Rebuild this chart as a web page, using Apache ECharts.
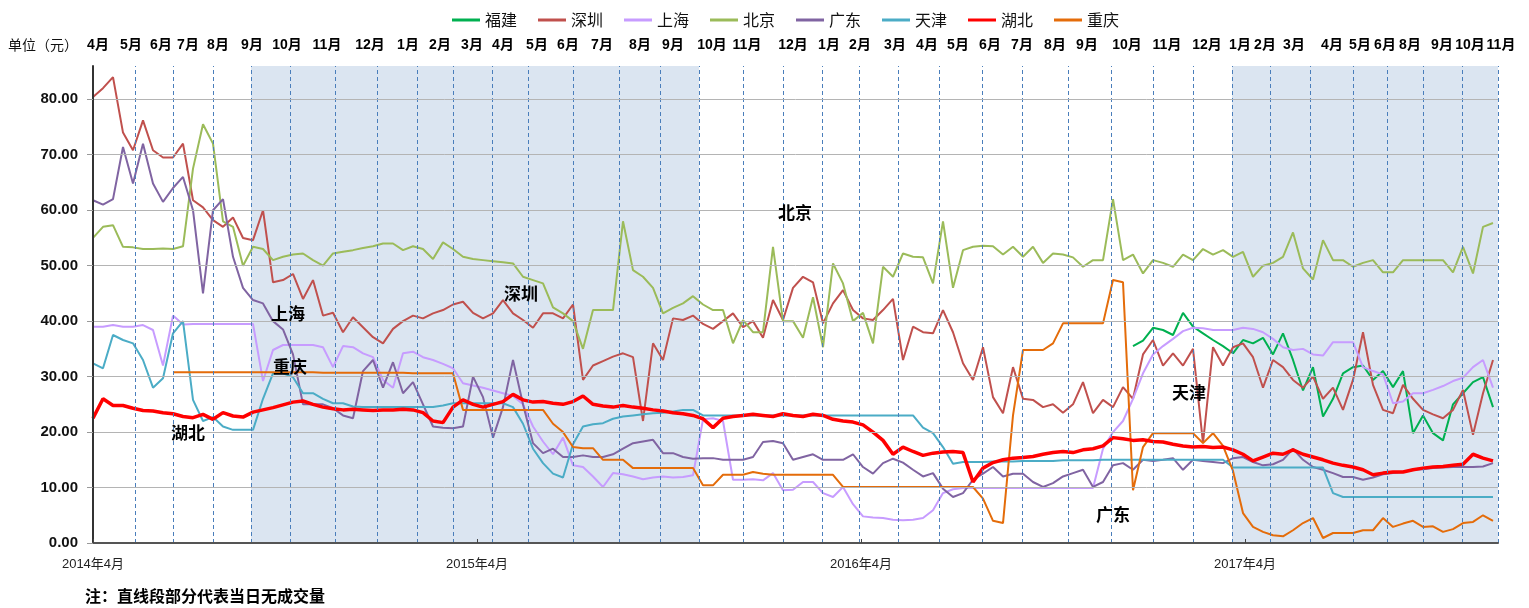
<!DOCTYPE html>
<html><head><meta charset="utf-8">
<script src="https://cdn.jsdelivr.net/npm/echarts@6/dist/echarts.min.js"></script>
<style>html,body{margin:0;padding:0;background:#fff}#c{width:1529px;height:608px}</style>
</head><body><div id="c"></div>
<script>
// x axis: trading-day-like units, one sample every 10 units, 0 = 2014年4月
const xStep = 10;
const names = ['福建','深圳','上海','北京','广东','天津','湖北','重庆'];
const colors = ['#00b050','#c0504d','#c79cff','#9bbb59','#8064a2','#4bacc6','#ff0000','#e46c0a'];

const fujian = [null,null,null,null,null,null,null,null,null,null,
 null,null,null,null,null,null,null,null,null,null,
 null,null,null,null,null,null,null,null,null,null,
 null,null,null,null,null,null,null,null,null,null,
 null,null,null,null,null,null,null,null,null,null,
 null,null,null,null,null,null,null,null,null,null,
 null,null,null,null,null,null,null,null,null,null,
 null,null,null,null,null,null,null,null,null,null,
 null,null,null,null,null,null,null,null,null,null,
 null,null,null,null,null,null,null,null,null,null,
 null,null,null,null,35.5,36.5,38.8,38.4,37.5,41.5,
 39,37.8,36.6,35.5,34.2,36.6,36,37,34,37.8,
 33,27.5,31.7,22.8,26,30.6,31.7,32,29.4,31,
 28.1,31,19.8,23,19.8,18.5,25,27,29,29.9,
 24.5];
const shenzhen = [80.4,82,84,74,70.8,76.2,70.8,69.5,69.5,72,
 61.8,60.5,58.2,57,58.7,55,54.6,60,47,47.4,
 48.5,44,47.4,41,41.5,38,40.7,38.9,37.1,36,
 38.6,40,41,40.5,41.4,42,43,43.5,41.5,40.5,
 41.4,43.8,41.4,40.2,38.8,41.4,41.4,40.5,43,29.4,
 32,32.8,33.6,34.2,33.5,22,36,33,40.5,40.2,
 41,39.5,38.6,40,41.4,38.9,40,37,43.8,40.2,
 46,48,47,39.6,43.2,45.6,42,40.5,40.2,42,
 44,33,39,38,37.8,42,38,32.4,29.4,35.3,
 26.3,23.4,31.7,26,25.8,24.5,25,23.5,25,29,
 23.4,25.8,24.5,28.1,26,34,36.6,32,34.2,32,
 35,18,35.3,32,35.3,36,33.5,28,33,31.7,
 29.4,28,30,26,28,24,29.4,38,28.5,24,
 23.4,28.5,26,24,23.2,22.5,24,27.6,19.5,27,
 33];
const shanghai = [39,39,39.3,39,39,39.3,38.4,32,41,39.4,
 39.5,39.5,39.5,39.5,39.5,39.5,39.5,29.2,34.8,35.7,
 35.7,35.7,35.7,35.3,31.7,35.5,35.3,34.2,33.5,29.4,
 28,34.2,34.5,33.5,33,32.3,31.5,28.8,28.4,28,
 27.5,27,26.5,25,21,18.3,16,19,14,13.7,
 12,10.1,12.6,12.4,12,11.5,11.8,12,11.8,11.9,
 12.2,22.3,22.5,22,11.4,11.4,11.5,11.3,12.6,9.5,
 9.6,11,11,9,8.3,10.1,7,4.8,4.6,4.5,
 4.2,4.1,4.2,4.5,5.9,9,9.7,9.9,9.9,9.9,
 9.9,9.9,9.9,9.9,9.9,9.9,9.9,9.9,9.9,9.9,
 9.9,17,20,22,26,30.6,34,35.5,36.8,38.2,
 38.8,38.7,38.4,38.4,38.4,38.8,38.6,38,36.8,35.3,
 34.8,35,34,33.8,36.2,36.2,36.2,31.7,31,30.4,
 25.2,25.5,27,27,27.6,28.3,29.2,29.8,31.7,33,
 28];
const beijing = [55,57,57.3,53.4,53.3,53,53,53.1,53,53.5,
 67.5,75.5,72,58,57,50,53.4,53,51,51.6,
 52,52.2,51,50,52.2,52.5,52.8,53.2,53.5,54,
 54,52.8,53.5,53,51.2,54.2,53,51.6,51.2,51,
 50.8,50.6,50.4,48,47.4,46.8,42.5,41.4,40,35,
 42,42,42,58,49.2,48,46,41.4,42.4,43.2,
 44.5,43,42,42,36,40.2,38,38,53.4,40,
 40,37,44.3,35.3,50.4,46.8,40,41.5,36,49.8,
 48,52.2,51.6,51.5,46.8,58,46,52.8,53.4,53.6,
 53.5,52,53.4,51.6,53.4,50.5,52.2,52,51.5,49.8,
 51,51,62,51,52,48.6,51,50.5,49.8,52,
 51,53,52,52.8,51.6,52.5,48,50,50.5,51.6,
 56,49.5,47.5,54.6,51,51,49.8,50.5,51,48.8,
 48.8,51,51,51,51,51,48.8,53.4,48.6,57,
 57.7];
const guangdong = [61.8,61,62,71.4,64.8,72,64.8,61.5,64,66,
 60,45,60,62,51.6,46,43.8,43.2,40,38.5,
 34,25,25,25,24.3,23,22.5,31,33,28,
 32.6,27,29,25,21,20.8,20.7,21,30,26.3,
 19,24.5,33,25,18,16.2,17,15.5,15.5,15.8,
 15.5,15.5,16,17,18,18.3,18.6,16.2,16.2,15.5,
 15.2,15.3,15.3,15,15,15,15.5,18.2,18.4,18,
 15,15.5,16,15,15,15,16,13.7,12.5,14.4,
 15.2,14.5,13.2,12,12.6,9.8,8.3,9,11.4,12.5,
 13.7,12,12.5,12.5,11,10.1,10.8,12,12.6,13.2,
 10.1,11,14,14.4,13.2,15,14.8,15,15.3,13.2,
 15,14.8,14.6,14.4,15.3,15.5,14.6,14,14.2,15,
 17,15,13.7,13.2,12.6,11.9,11.9,11.4,11.8,12.4,
 12.6,12.8,13.2,13.3,13.5,13.6,13.7,13.7,13.7,13.8,
 14.4];
const tianjin = [32.4,31.5,37.5,36.6,36,33,28,29.7,37.8,40,
 25.8,22,22.7,21,20.4,20.4,20.4,26,30.6,30.6,
 29.9,27,27,26,25.2,25.2,24.6,24.5,24.5,24.5,
 24.5,24.5,24.5,24.5,24.5,24.8,25.2,25.2,25.2,25.2,
 25.2,25.2,24.5,21.5,17,14.4,12.5,11.8,17.8,21,
 21.4,21.6,22.4,22.8,23,23.2,23.4,23.5,23.7,24,
 24,23,23,23,23,23,23,23,23,23,
 23,23,23,23,23,23,23,23,23,23,
 23,23,23,20.8,19.8,17.3,14.3,14.6,14.6,14.6,
 14.7,14.7,14.7,14.8,14.8,14.8,14.8,14.9,14.9,14.9,
 14.9,15,15,15,15,15,15,15,15,15,
 15,15,15,15,13.6,13.6,13.6,13.6,13.6,13.6,
 13.6,13.6,13.6,13.6,9,8.3,8.3,8.3,8.3,8.3,
 8.3,8.3,8.3,8.3,8.3,8.3,8.3,8.3,8.3,8.3,
 8.3];
const hubei = [22.5,26,24.8,24.8,24.3,23.9,23.8,23.5,23.3,22.8,
 22.6,23.2,22.3,23.5,22.9,22.7,23.6,24.0,24.4,24.9,
 25.4,25.6,25.0,24.5,24.2,24.0,24.1,24.0,23.9,24.0,
 24.0,24.1,24.0,23.5,22.0,21.7,24.5,25.8,25.0,24.5,
 25.0,25.5,26.8,25.8,25.4,25.5,25.2,25.0,25.5,26.5,
 25.0,24.7,24.5,24.8,24.5,24.3,24.0,23.8,23.5,23.3,
 23.0,22.4,20.8,22.5,22.8,23.0,23.2,23.0,22.8,23.3,
 23.0,22.8,23.2,23.0,22.3,22.0,21.8,21.3,20.0,18.5,
 16.0,17.3,16.5,15.8,16.2,16.4,16.5,16.3,11.0,13.5,
 14.5,15.0,15.3,15.4,15.6,16.0,16.3,16.5,16.3,16.8,
 17.0,17.5,19.0,18.8,18.5,18.6,18.3,18.2,17.8,17.5,
 17.3,17.4,17.2,17.3,16.8,16.0,14.8,15.5,16.2,16.0,
 16.8,16.0,15.5,15.0,14.4,14.0,13.7,13.2,12.3,12.6,
 12.8,12.8,13.2,13.5,13.7,13.8,14.0,14.2,16.0,15.3,
 14.8];
const chongqing = [null,null,null,null,null,null,null,null,30.8,30.8,
 30.8,30.8,30.8,30.8,30.8,30.8,30.8,30.8,30.8,30.8,
 30.8,30.8,30.8,30.7,30.7,30.7,30.7,30.7,30.7,30.7,
 30.7,30.7,30.6,30.6,30.6,30.6,30.6,24,24,24,
 24,24,24,24,24,24,21.5,20,17.3,17.1,
 17.1,15,15,15,13.5,13.5,13.5,13.5,13.5,13.5,
 13.5,10.4,10.4,12.3,12.3,12.3,12.8,12.5,12.3,12.3,
 12.3,12.3,12.3,12.3,12.3,10.1,10.1,10.1,10.1,10.1,
 10.1,10.1,10.1,10.1,10.1,10.1,10.1,10.1,10.1,8,
 4,3.6,23,34.8,34.8,34.8,36,39.6,39.6,39.6,
 39.6,39.6,47.4,47,9.5,17.3,19.8,19.8,19.8,19.8,
 19.8,18,19.8,17.5,13,5.4,2.9,2,1.4,1.2,
 2.3,3.6,4.5,0.9,1.8,1.8,1.8,2.3,2.3,4.5,
 2.9,3.5,4,2.9,3,2,2.5,3.6,3.8,5,
 4];
const seriesValues = [fujian, shenzhen, shanghai, beijing, guangdong, tianjin, hubei, chongqing];

// month boundaries (dashed verticals), shaded periods
const monthLines = [42,80,120,158,197,242,284,324,360,399,435,480,526,567,606,650,690,729,766,805,846,889,929,975,1018,1060,1100,1139,1177,1217,1260,1294,1330,1369,1405];
const shadeRanges = [[158,606],[1139,1405]];
// top month labels
const topMonthNames = ['4月','5月','6月','7月','8月','9月','10月','11月','12月','1月','2月','3月','4月','5月','6月','7月','8月','9月','10月','11月','12月','1月','2月','3月','4月','5月','6月','7月','8月','9月','10月','11月','12月','1月','2月','3月','4月','5月','6月','8月','9月','10月','11月'];
const topMonthPos = [5,38,68,95,125,159,194,234,277,315,347,379,410,444,475,509,547,580,619,654,700,736,767,802,834,865,897,929,962,994,1034,1074,1114,1147,1172,1201,1239,1267,1292,1317,1349,1377,1408];
// bottom axis ticks
const yearTickVals = [0,384,768,1152];
const yearTickNames = ['2014年4月','2015年4月','2016年4月','2017年4月'];
// in-plot annotations
const annoText = ['北京','深圳','上海','重庆','湖北','广东','天津'];
const annoX = [702,428,195,197,95,1020,1096];
const annoY = [59.5,45.0,41.4,31.9,20.0,5.1,27.2];

const chart = echarts.init(document.getElementById('c'), null, {renderer:'canvas'});
const lineSeries = names.map((n,i)=>({
  name:n, type:'line', symbol:'none', showSymbol:false, connectNulls:false,
  z: n==='湖北'?4:3,
  lineStyle:{width: n==='湖北'?3.5:2, color:colors[i]},
  itemStyle:{color:colors[i]},
  data: seriesValues[i].map((v,k)=>[k*xStep, v])
}));
const option = {
  animation:false,
  grid:{left:93,right:31,top:66,bottom:65},
  legend:{data:names, left:447, top:7, icon:'rect', itemWidth:28, itemHeight:3, itemGap:21,
    textStyle:{fontSize:16, color:'#111', fontFamily:'Noto Sans CJK SC'}},
  xAxis:{type:'value', min:0, max:1405, interval:384, z:20,
    axisLine:{show:true, lineStyle:{color:'#555', width:2}},
    axisTick:{show:true, inside:true, length:4, lineStyle:{color:'#444'}},
    splitLine:{show:false},
    axisLabel:{showMaxLabel:false, margin:15, fontSize:13, color:'#222', fontFamily:'Liberation Sans, Noto Sans CJK SC',
      formatter:v=>{const i=yearTickVals.indexOf(v); return i>=0?yearTickNames[i]:'';}}},
  yAxis:{type:'value', min:0, max:86, interval:10, z:20,
    axisLine:{show:true, lineStyle:{color:'#333', width:2}},
    axisTick:{show:true, length:6, lineStyle:{color:'#999'}},
    splitLine:{show:true, showMaxLine:false, lineStyle:{color:'#b4b4b4', width:1}},
    axisLabel:{showMaxLabel:false, margin:15, fontSize:15, fontWeight:'bold', color:'#111', fontFamily:'Liberation Sans',
      formatter:v=>v.toFixed(2)}},
  series:[
    {name:'monthLines', type:'line', data:[], z:1, silent:true,
      markLine:{silent:true, symbol:['none','none'], label:{show:false},
        lineStyle:{type:[4,3], color:'#4a7ebb', width:1},
        data: monthLines.map(v=>({xAxis:v}))}},
    ...lineSeries,
    {name:'shade', type:'line', data:[], z:10, silent:true,
      markArea:{silent:true, itemStyle:{color:'rgba(135,168,208,0.3)'},
        data: shadeRanges.map(r=>[{xAxis:r[0]},{xAxis:r[1]}])}}
  ]
};
chart.setOption(option);
const topY = 45;
const graphics = topMonthPos.map((v,i)=>({type:'text', x: chart.convertToPixel({xAxisIndex:0}, v), y: topY,
  style:{text: topMonthNames[i], font:'bold 14px "Liberation Sans Narrow", "Liberation Sans", "Noto Sans CJK SC"', align:'center', verticalAlign:'middle', fill:'#000'}}));
annoText.forEach((t,i)=>{
  const p = chart.convertToPixel({gridIndex:0}, [annoX[i], annoY[i]]);
  graphics.push({type:'text', x:p[0], y:p[1], z:100,
    style:{text:t, font:'bold 17px "Noto Sans CJK SC"', align:'center', verticalAlign:'middle', fill:'#000'}});
});
graphics.push({type:'text', x:8, y:topY, style:{text:'单位（元）', font:'14px "Noto Sans CJK SC"', align:'left', verticalAlign:'middle', fill:'#111'}});
graphics.push({type:'text', x:85, y:596, style:{text:'注：直线段部分代表当日无成交量', font:'bold 16px "Noto Sans CJK SC"', align:'left', verticalAlign:'middle', fill:'#000'}});
chart.setOption({graphic: graphics});
</script></body></html>
